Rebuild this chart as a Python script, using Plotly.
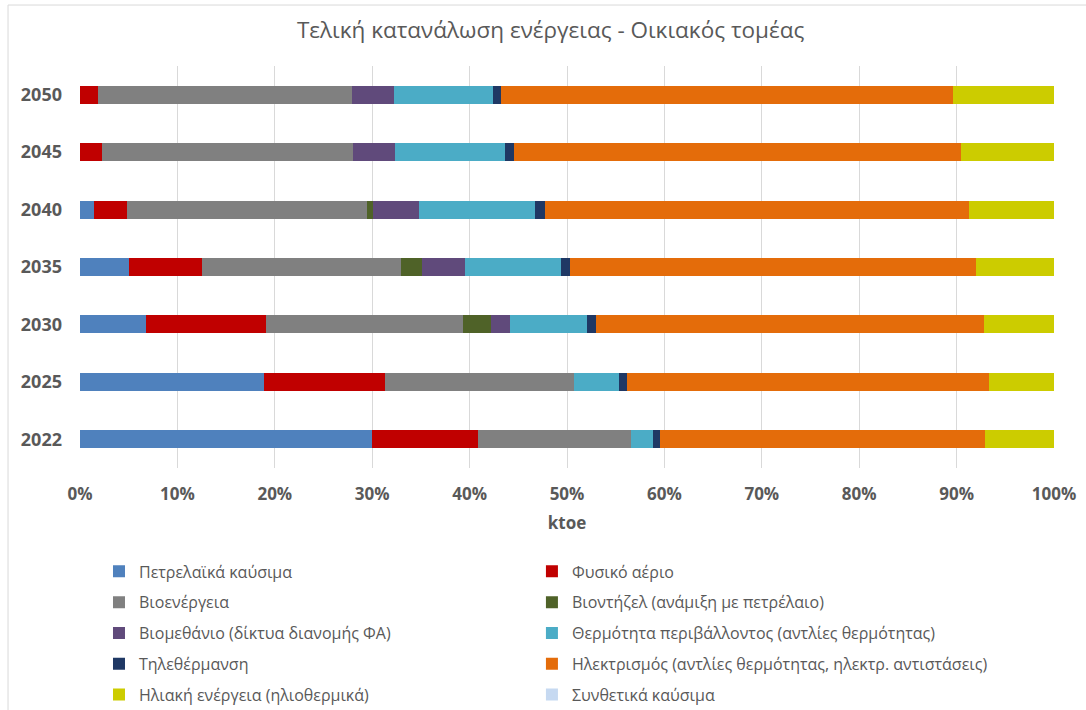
import plotly.graph_objects as go

# Years shown on the category axis (bottom to top)
years = ["2022", "2025", "2030", "2035", "2040", "2045", "2050"]

# Share of final residential energy consumption per carrier (%), one value per year
petroleum = [29.98, 18.89, 6.78, 5.03, 1.44, 0.0, 0.0]
natural_gas = [10.92, 12.42, 12.32, 7.50, 3.39, 2.26, 1.85]
bioenergy = [15.69, 19.38, 20.26, 20.46, 24.64, 25.80, 26.05]
biodiesel = [0.0, 0.0, 2.80, 2.12, 0.65, 0.0, 0.0]
biomethane = [0.0, 0.0, 1.99, 4.42, 4.72, 4.28, 4.30]
ambient_heat = [2.26, 4.62, 7.90, 9.81, 11.87, 11.33, 10.20]
district_heating = [0.66, 0.90, 0.90, 0.97, 1.00, 0.89, 0.80]
electricity = [33.38, 37.16, 39.83, 41.64, 43.55, 45.86, 46.39]
solar_thermal = [7.11, 6.63, 7.22, 8.05, 8.74, 9.58, 10.41]
synthetic_fuels = [0.0, 0.0, 0.0, 0.0, 0.0, 0.0, 0.0]

x_ticks = [0, 10, 20, 30, 40, 50, 60, 70, 80, 90, 100]

series = [
    ("Πετρελαϊκά καύσιμα", petroleum, "#4F81BD", "legend"),
    ("Φυσικό αέριο", natural_gas, "#C00000", "legend2"),
    ("Βιοενέργεια", bioenergy, "#808080", "legend"),
    ("Βιοντήζελ (ανάμιξη με πετρέλαιο)", biodiesel, "#4F6228", "legend2"),
    ("Βιομεθάνιο (δίκτυα διανομής ΦΑ)", biomethane, "#604A7B", "legend"),
    ("Θερμότητα περιβάλλοντος (αντλίες θερμότητας)", ambient_heat, "#4BACC6", "legend2"),
    ("Τηλεθέρμανση", district_heating, "#1F3864", "legend"),
    ("Ηλεκτρισμός (αντλίες θερμότητας, ηλεκτρ. αντιστάσεις)", electricity, "#E46C0A", "legend2"),
    ("Ηλιακή ενέργεια (ηλιοθερμικά)", solar_thermal, "#CCCC00", "legend"),
    ("Συνθετικά καύσιμα", synthetic_fuels, "#C6D9F1", "legend2"),
]

fig = go.Figure()
for i, (name, values, color, leg) in enumerate(series):
    fig.add_trace(go.Bar(
        y=years,
        x=values,
        name=name,
        orientation="h",
        marker=dict(color=color, line=dict(width=0)),
        legend=leg,
        legendgroup=f"g{i}",
    ))

text_color = "#595959"
font_family = "Open Sans"

legend_style = dict(
    orientation="v",
    traceorder="grouped",
    tracegroupgap=7,
    font=dict(family=font_family, size=16, color=text_color),
    bgcolor="rgba(0,0,0,0)",
    xanchor="left",
    yanchor="top",
)

fig.update_layout(
    width=1086,
    height=710,
    barmode="stack",
    barnorm="percent",
    bargap=0.686,
    paper_bgcolor="white",
    plot_bgcolor="white",
    margin=dict(l=80, r=32, t=66, b=242, autoexpand=False),
    title=dict(
        text="Τελική κατανάλωση ενέργειας - Οικιακός τομέας",
        x=0.507,
        xanchor="center",
        y=0.957,
        yanchor="middle",
        font=dict(family=font_family, size=22.5, color=text_color),
    ),
    xaxis=dict(
        range=[0, 100],
        tickvals=x_ticks,
        ticktext=[f"{v}%" for v in x_ticks],
        showgrid=True,
        gridcolor="#D9D9D9",
        gridwidth=1,
        zeroline=False,
        showline=False,
        ticks="",
        ticklabelstandoff=14,
        tickfont=dict(family=font_family, size=17, color=text_color, weight="bold"),
        title=dict(
            text="ktoe",
            standoff=13,
            font=dict(family=font_family, size=17, color=text_color, weight="bold"),
        ),
        fixedrange=True,
    ),
    yaxis=dict(
        showgrid=False,
        zeroline=False,
        showline=False,
        ticks="",
        ticklabelstandoff=17,
        tickfont=dict(family=font_family, size=18, color=text_color, weight="bold"),
        fixedrange=True,
    ),
    legend=dict(x=0.0195, y=-0.215, **legend_style),
    legend2=dict(x=0.464, y=-0.215, **legend_style),
    shapes=[
        dict(
            type="rect",
            xref="paper",
            yref="paper",
            x0=-0.0739,
            x1=1.1,
            y0=-0.7,
            y1=1.1517,
            line=dict(color="#D9D9D9", width=1),
            fillcolor="rgba(0,0,0,0)",
            layer="below",
        )
    ],
    showlegend=True,
)

fig.write_html("out.html")
